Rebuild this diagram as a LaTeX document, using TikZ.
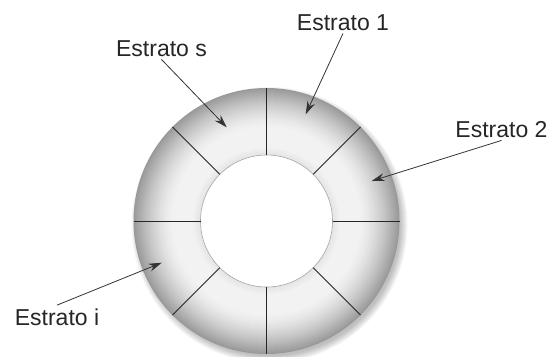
\documentclass[tikz,border=0pt]{standalone}
\usepackage{fontspec}
\setmainfont{Liberation Sans}
\usetikzlibrary{arrows.meta,calc}

\begin{document}
\begin{tikzpicture}[x=1bp, y=-1bp,
  lbl/.style={font=\fontsize{23bp}{27bp}\selectfont, text=black!85,
              inner sep=3bp, anchor=base},
  arr/.style={-{Stealth[length=13bp,width=8bp]}, line width=0.8bp, black!80},
  seg/.style={line width=0.8bp, black!85},
]
\useasboundingbox (0,0) rectangle (550,356);
\coordinate (c) at (266.5,221);

% --- soft shadow ---
\foreach \rr in {138,137,...,131}
  \fill[black, opacity=0.035] ($(c)+(3,4)$) circle (\rr bp);

% --- ring, shaded band by band ---
\foreach \rr in {133,132,...,67} {
  \pgfmathsetmacro{\tv}{(\rr-66)/67}
  \pgfmathsetmacro{\uv}{max(\tv-0.4,0)/0.6}
  \pgfmathsetmacro{\lv}{min(89+50*\tv,95)-35*\uv*sqrt(\uv)}
  \fill[white!\lv!black] (c) circle (\rr bp);
}
\fill[white] (c) circle (66bp);
\draw[gray!70, line width=0.6bp] (c) circle (66bp);
\foreach \a in {0,45,...,315}
  \draw[seg] ($(c)+(\a:66bp)$) -- ($(c)+(\a:133bp)$);

% --- labels ---
\node[lbl] (ls) at (161.5,56)  {Estrato s};
\node[lbl] (l1) at (343,30)    {Estrato 1};
\node[lbl] (l2) at (501.5,137) {Estrato 2};
\node[lbl] (li) at (57,325)    {Estrato i};

\coordinate (ts) at (226.7,127.3);
\coordinate (t1) at (305.7,114.3);
\coordinate (t2) at (371.7,181);
\coordinate (ti) at (161.7,262.7);

\draw[arr] (ls.south) -- (ts);
\draw[arr] (l1.south) -- (t1);
\draw[arr] (l2.south) -- (t2);
\draw[arr] (li.north) -- (ti);
\end{tikzpicture}
\end{document}
